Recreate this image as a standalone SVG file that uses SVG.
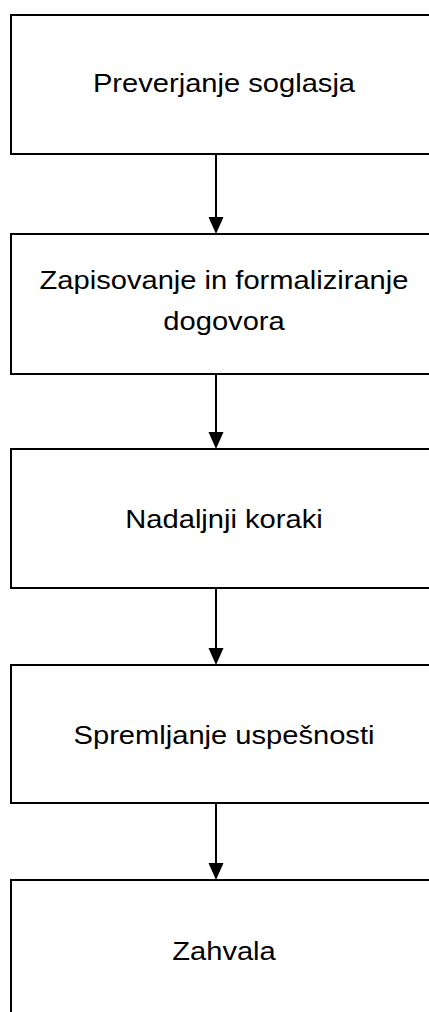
<svg xmlns="http://www.w3.org/2000/svg" width="429" height="1012" viewBox="0 0 429 1012">
<style>
.box{fill:#fff;stroke:#000;stroke-width:2}
.lbl{font-family:"Liberation Sans",Arial,sans-serif;font-size:25px;fill:#000;text-anchor:middle}
.conn line{stroke:#000;stroke-width:2}
.conn polygon{fill:#000}
</style>
<rect width="429" height="1012" fill="#fff"/>
<g id="n1"><rect class="box" x="11" y="15" width="430" height="139"/><text class="lbl" transform="translate(224,92) scale(1.165,1)">Preverjanje soglasja</text></g>
<g id="n2"><rect class="box" x="11" y="234" width="430" height="140"/><text class="lbl" transform="translate(224,289) scale(1.165,1)">Zapisovanje in formaliziranje</text><text class="lbl" transform="translate(224,330) scale(1.165,1)">dogovora</text></g>
<g id="n3"><rect class="box" x="11" y="449" width="430" height="139"/><text class="lbl" transform="translate(224,528) scale(1.165,1)">Nadaljnji koraki</text></g>
<g id="n4"><rect class="box" x="11" y="665" width="430" height="138"/><text class="lbl" transform="translate(224,744) scale(1.165,1)">Spremljanje uspešnosti</text></g>
<g id="n5"><rect class="box" x="11" y="880" width="430" height="150"/><text class="lbl" transform="translate(224,960) scale(1.165,1)">Zahvala</text></g>
<g id="connectors" class="conn">
<line x1="216" y1="154" x2="216" y2="220"/><polygon points="208.5,217 223.5,217 216,234"/>
<line x1="216" y1="374" x2="216" y2="435"/><polygon points="208.5,432 223.5,432 216,449"/>
<line x1="216" y1="588" x2="216" y2="651"/><polygon points="208.5,648 223.5,648 216,665"/>
<line x1="216" y1="803" x2="216" y2="866"/><polygon points="208.5,863 223.5,863 216,880"/>
</g>
</svg>
